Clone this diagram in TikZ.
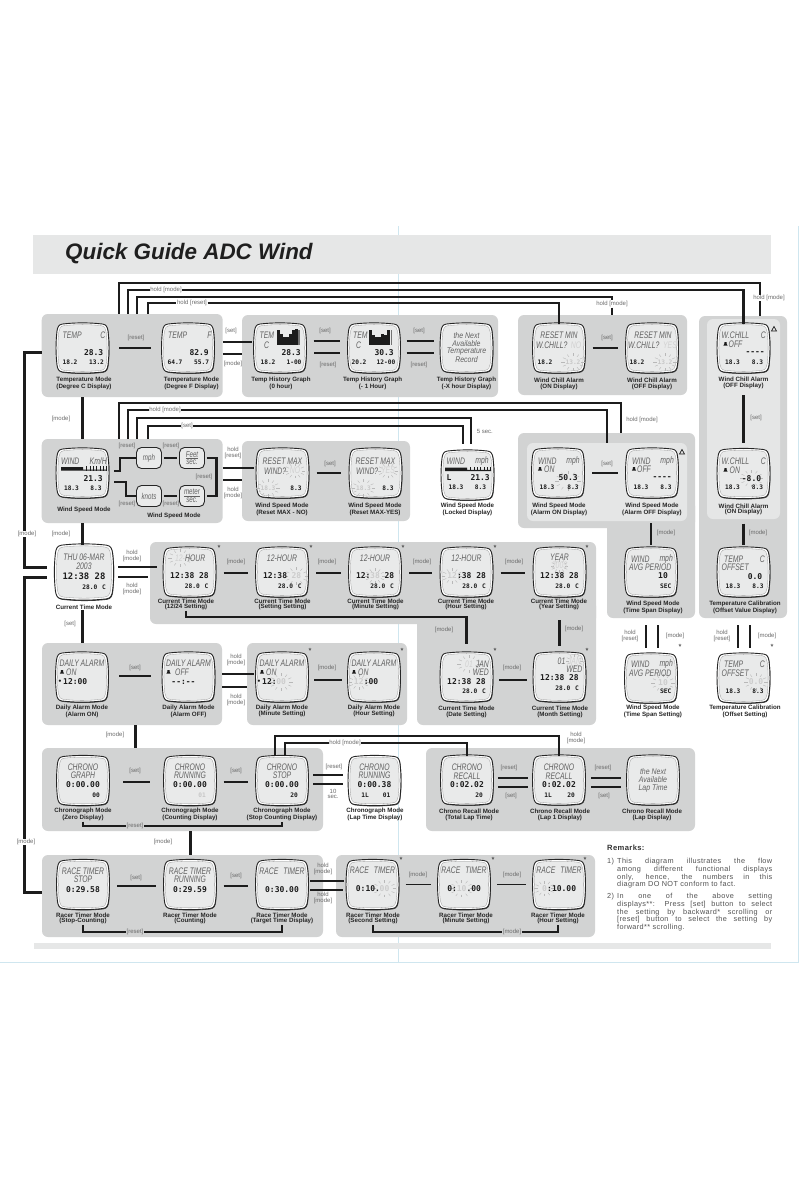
\documentclass[tikz,border=0pt]{standalone}
\usepackage{fontspec}
\setmainfont{Liberation Sans}
\newfontfamily\lcdfont[FakeStretch=.72]{Liberation Sans}
\newfontfamily\nextfont[FakeStretch=.85]{Liberation Sans}
\newfontfamily\digfont{DejaVu Sans Mono}
\newfontfamily\remfont[LetterSpace=5]{Liberation Sans}
\definecolor{grpgray}{HTML}{D2D3D3}
\definecolor{inngray}{HTML}{E5E6E6}
\definecolor{bandgray}{HTML}{E6E7E7}
\definecolor{facegray}{HTML}{E9EAEA}
\definecolor{rulecol}{HTML}{CFE6EF}
\definecolor{inkdark}{HTML}{1C1C1C}
\tikzset{
  grp/.style={fill=grpgray,rounded corners=6pt,inner sep=0pt},
  inn/.style={fill=inngray,rounded corners=6pt,inner sep=0pt},
  link/.style={draw=inkdark,line width=2.3pt},
  heavy/.style={draw=inkdark,line width=3pt},
  thinlink/.style={draw=inkdark,line width=1.8pt},
  gapline/.style={shorten <=#1,shorten >=#1},
  lbl/.style={font=\fontsize{6}{5.6}\selectfont,text=black!58,align=center,inner sep=.6pt},
  capt/.style={font=\bfseries\fontsize{6.2}{5.5}\selectfont,text=black!85,align=center,inner sep=.5pt},
  tl/.style={font=\lcdfont\itshape\fontsize{9.5}{9.5}\selectfont,text=black!62,anchor=west,inner sep=0pt},
  tr/.style={tl,anchor=east},
  tc/.style={tl,anchor=center},
  tn/.style={tc,font=\nextfont\itshape\fontsize{8.2}{8.2}\selectfont},
  fi/.style={tl,anchor=center,text=black!18},
  bg/.style={font=\digfont\bfseries\fontsize{8}{8}\selectfont,text=inkdark,anchor=east,inner sep=0pt},
  bc/.style={bg,anchor=center},
  bl/.style={bg,anchor=west},
  bk/.style={bc,font=\digfont\bfseries\fontsize{8.9}{9}\selectfont},
  fb/.style={bc,text=black!20},
  sm/.style={font=\digfont\bfseries\fontsize{6.2}{6}\selectfont,text=inkdark,anchor=center,inner sep=0pt},
  sr/.style={sm,anchor=east},
  fd/.style={sm,text=black!22},
  btn/.style={draw=black!85,line width=.9pt,fill=facegray,rounded corners=5pt,minimum width=25pt,minimum height=21pt,
    inner sep=0pt,align=center,font=\lcdfont\itshape\fontsize{8.6}{7.6}\selectfont,text=black!62},
  star/.style={font=\fontsize{7.5}{7.5}\selectfont,text=inkdark,inner sep=0pt},
  tri/.style={draw=inkdark,line width=.7pt},
  raysty/.style={draw=black!28,line width=.4pt},
  rem/.style={font=\remfont\fontsize{7.3}{7.75}\selectfont,text=black!68,align=left,anchor=north west,inner sep=0pt},
}
\newcounter{dtcnt}
\newcommand\dt[3][tl]{\stepcounter{dtcnt}\node[#1] (dtxt\arabic{dtcnt}) at (#2) {#3};}
\newcommand\rays[2]{\foreach \a in {0,30,...,330}
  \draw[raysty,shift={(#1)},xscale=1.35] (\a:#2) -- (\a:#2+2.6);}
\newcommand\bellm[1]{\fill[inkdark,shift={(#1)}] (-2.2,1.7) -- (2.2,1.7) -- (1.3,.2) -- (1,-1.8) -- (-1,-1.8) -- (-1.3,.2) -- cycle;}
\newcommand\windbar[3]{\fill[inkdark,shift={(#1)}] (0,0) rectangle (#2,-1.2) (0,0) rectangle (.48*#2,-3.5);
  \foreach \i in {1,...,7} \fill[inkdark,shift={(#1)}] (.48*#2+\i*.072*#2,0) rectangle ++(.8,-#3);}
\def\lcdshape{(-20,-24) .. controls (-7,-25.5) and (7,-25.5) .. (20,-24) .. controls (24,-23.5) and (25,-20.5) .. (25.5,-17)
  .. controls (26.8,-6) and (26.8,6) .. (25.5,17) .. controls (25,20.5) and (24,23.5) .. (20,24)
  .. controls (7,25.5) and (-7,25.5) .. (-20,24) .. controls (-24,23.5) and (-25,20.5) .. (-25.5,17)
  .. controls (-26.8,6) and (-26.8,-6) .. (-25.5,-17) .. controls (-25,-20.5) and (-24,-23.5) .. (-20,-24) -- cycle}
\newcommand\lcd[6][1]{
  \begin{scope}[shift={(#3)},scale=#1]
    \node[minimum width=#1*52pt,minimum height=#1*48pt,inner sep=0pt] (#2) at (0,0) {};
    \fill[black!75,shift={(.5,.8)}] \lcdshape;
    \draw[black!85,fill=white,line width=.9pt] \lcdshape;
    \draw[black!40,fill=facegray,line width=.3pt,scale=.93] \lcdshape;
    #6
  \end{scope}
  \node[capt] (#2cap) at (#4) {#5};}
\newcommand\rline[1]{\makebox[155pt][s]{#1}\\}
\begin{document}
\begin{tikzpicture}[x=1pt,y=-1pt]
  \useasboundingbox (0,0) rectangle (808,1179);
  \fill[white] (0,0) rectangle (808,1179);
  \draw[rulecol,line width=.7pt] (398,226) -- (398,962);
  \draw[rulecol,line width=.9pt] (798,226) -- (798,962) -- (0,962);
  \node[fill=bandgray,minimum width=738pt,minimum height=39pt,inner sep=0pt] (topband) at (402,254.5) {};
  \node[fill=bandgray,minimum width=737pt,minimum height=6pt,inner sep=0pt] (lowband) at (402.5,946) {};
  \node[font=\bfseries\itshape\fontsize{22.4}{22}\selectfont,text=black!88,anchor=west,inner sep=0pt] (title) at (65,254) {Quick Guide ADC Wind};

  \node[grp,minimum width=181pt,minimum height=83pt] (gTemp) at (132.2,355.5) {};
  \node[grp,minimum width=256pt,minimum height=82pt] (gHist) at (370,356) {};
  \node[grp,minimum width=169pt,minimum height=80pt] (gChill) at (602.5,355) {};
  \node[grp,minimum width=88pt,minimum height=302pt] (gRight) at (743,467) {};
  \node[inn,minimum width=73pt,minimum height=200pt] (gRightin) at (743.5,419) {};
  \node[grp,minimum width=181pt,minimum height=84pt] (gWind) at (132.2,481) {};
  \node[grp,minimum width=168pt,minimum height=80pt] (gReset) at (326,481) {};
  \node[grp,minimum width=177pt,minimum height=95pt] (gAlarm) at (606.5,480.5) {};
  \node[grp,minimum width=88pt,minimum height=118pt] (gAvg) at (651,559) {};
  \node[inn,minimum width=160pt,minimum height=78pt] (gAlarmin) at (607,482) {};
  \node[grp,minimum width=446pt,minimum height=82pt] (gSet) at (373,583) {};
  \node[grp,minimum width=179pt,minimum height=125pt] (gSetb) at (506.5,662.5) {};
  \node[grp,minimum width=180pt,minimum height=82pt] (gDaily) at (132,684) {};
  \node[grp,minimum width=160pt,minimum height=82pt] (gDset) at (327,684) {};
  \node[grp,minimum width=281pt,minimum height=83pt] (gChrono) at (182.5,789.5) {};
  \node[grp,minimum width=269pt,minimum height=83pt] (gRecall) at (560.5,789.5) {};
  \node[grp,minimum width=281pt,minimum height=82pt] (gRace) at (182.5,896) {};
  \node[grp,minimum width=259pt,minimum height=82pt] (gRset) at (465.5,896) {};

  \lcd{tempc}{82.5,348}{84,383.7}{Temperature Mode\\(Degree C Display)}{
    \dt{-20,-13}{TEMP} \dt[tr]{23,-13}{C} \dt[bg]{21,5}{28.3} \dt[sm]{-12.5,14}{18.2} \dt[sm]{14,14}{13.2}}
  \lcd{tempf}{188,348}{191.5,383.7}{Temperature Mode\\(Degree F Display)}{
    \dt{-20,-13}{TEMP} \dt[tr]{23.7,-13}{F} \dt[bg]{21,5}{82.9} \dt[sm]{-13,14}{64.7} \dt[sm]{13.7,14}{55.7}}
  \lcd{tem0}{280,348}{281,383.7}{Temp History Graph\\(0 hour)}{
    \foreach \bx/\bh in {-3.3/15,-.3/11,2.7/8,5.7/8,8.7/11,11.7/15,14.7/15.5} \fill[inkdark] (\bx,-3.3) rectangle ++(3,-\bh);
    \fill[black!55] (17.7,-3.3) rectangle ++(2,-15);
    \dt{-20.5,-13}{TEM} \dt{-16,-3}{C} \dt[bg]{21,5}{28.3} \dt[sm]{-12,14}{18.2} \dt[sm]{14,14}{1-00}}
  \lcd{tem1}{374,348}{372.7,383.7}{Temp History Graph\\(- 1 Hour)}{
    \foreach \bx/\bh in {-4.7/15,-1.7/9.5,1.3/7.5,4.3/7.5,7.3/10.5,10.3/10,13.3/15} \fill[inkdark] (\bx,-3.3) rectangle ++(3,-\bh);
    \fill[black!55] (17,-3.3) rectangle ++(1,-15);
    \dt{-21,-13}{TEM} \dt{-18,-3}{C} \dt[bg]{20,5}{30.3} \dt[sm]{-15,14}{20.2} \dt[sm]{12,14}{12-00}}
  \lcd{nexth}{466.5,348}{466.5,383.7}{Temp History Graph\\(-X hour Display)}{
    \dt[tn]{0,-12}{the Next} \dt[tn]{0,-4}{Available} \dt[tn]{0,4}{Temperature} \dt[tn]{0,12}{Record}}
  \lcd{rmin1}{559,348}{559,383.7}{Wind Chill Alarm\\(ON Display)}{
    \rays{14,14}{6}
    \dt[tc]{0,-13}{RESET MIN} \dt{-23,-3}{W.CHILL?} \dt[fi]{17,-3}{NO} \dt[sm]{-14,14}{18.2} \dt[fd]{14,14}{13.2}}
  \lcd{rmin2}{652,348}{652,383.7}{Wind Chill Alarm\\(OFF Display)}{
    \rays{13,14}{6}
    \dt[tc]{1,-13}{RESET MIN} \dt{-24,-3}{W.CHILL?} \dt[fi]{18,-3}{YES} \dt[sm]{-15,14}{18.2} \dt[fd]{13,14}{13.2}}
  \lcd{wcoff}{743.5,348}{743.5,383}{Wind Chill Alarm\\(OFF Display)}{
    \bellm{-18,-4} \dt{-22,-13}{W.CHILL} \dt[tr]{22.5,-13}{C} \dt{-15,-4}{OFF} \dt[bg]{21.5,5}{-{}-{}-{}-} \dt[sm]{-11,14}{18.3} \dt[sm]{14,14}{8.3}}
  \lcd{wcon}{743.5,473.5}{743.5,509.5}{Wind Chill Alarm\\(ON Display)}{
    \rays{8,5}{6}
    \bellm{-18,-3.5} \dt{-22,-12}{W.CHILL} \dt[tr]{22.5,-12}{C} \dt{-14,-3.5}{ON} \dt[bc]{8,5}{-8.0} \dt[sm]{-11,14}{18.3} \dt[sm]{14,14}{8.3}}

  \lcd{wspd}{82.5,473}{84,509.5}{Wind Speed Mode}{
    \windbar{-21.5,-2.3}{46}{4.5}
    \dt{-21.5,-12}{WIND} \dt[tr]{24.5,-12}{Km/H} \dt[bg]{20.5,5.7}{21.3} \dt[sm]{-11,15.7}{18.3} \dt[sm]{13.5,15.7}{8.3}}
  \node[btn] (mph) at (149,458) {mph};
  \node[btn] (feet) at (192,458) {\underline{Feet}\\sec.};
  \node[btn] (knots) at (149,496) {knots};
  \node[btn] (meter) at (192,496) {\underline{meter}\\sec.};
  \node[capt] (wmodecap) at (174,516) {Wind Speed Mode};
  \lcd{rno}{282.5,473}{282,509.5}{Wind Speed Mode\\(Reset MAX - NO)}{
    \rays{-14.5,15}{6} \rays{12.5,-2.3}{5}
    \dt[tc]{0,-12}{RESET MAX} \dt{-18.5,-2.3}{WIND?} \dt[fi]{12.5,-2.3}{NO} \dt[fd]{-14.5,15}{18.3} \dt[sm]{13.5,15}{8.3}}
  \lcd{ryes}{375.5,473}{375,509.5}{Wind Speed Mode\\(Reset MAX-YES)}{
    \rays{-12,15}{6} \rays{12.5,-2.3}{5}
    \dt[tc]{0,-12}{RESET MAX} \dt{-19.5,-2.3}{WIND?} \dt[fi]{12.5,-2.3}{YES} \dt[fd]{-12,15}{18.3} \dt[sm]{12.5,15}{8.3}}
  \lcd{wlock}{467.5,475}{467.5,509.5}{Wind Speed Mode\\(Locked Display)}{
    \windbar{-22.5,-4}{46}{4.5}
    \dt{-21,-14}{WIND} \dt[tr]{21.5,-14}{mph} \dt[bl]{-21,3}{L} \dt[bg]{22.5,3}{21.3} \dt[sm]{-11.5,12}{18.3} \dt[sm]{13,12}{8.3}}
  \lcd{won}{558,473}{559,509.5}{Wind Speed Mode\\(Alarm ON Display)}{
    \rays{10,8}{7}
    \bellm{-18,-4} \dt{-20,-12}{WIND} \dt[tr]{22,-12}{mph} \dt{-14,-4}{ON} \dt[bg]{20,5}{50.3} \dt[sm]{-11,14}{18.3} \dt[sm]{15,14}{8.3}}
  \lcd{woff}{652,473}{652,509.5}{Wind Speed Mode\\(Alarm OFF Display)}{
    \bellm{-18,-4} \dt{-20,-12}{WIND} \dt[tr]{22,-12}{mph} \dt{-15,-4}{OFF} \dt[bg]{20,5}{-{}-{}-{}-} \dt[sm]{-11,14}{18.3} \dt[sm]{14,14}{8.3}}
  \lcd{wavg}{651,572}{653,607}{Wind Speed Mode\\(Time Span Display)}{
    \dt{-20,-13}{WIND} \dt[tr]{22,-13}{mph} \dt{-22,-5}{AVG PERIOD} \dt[bc]{12,4}{10} \dt[sr]{20.5,14}{SEC}}
  \lcd{toff}{743.5,572}{745,607}{Temperature Calibration\\(Offset Value Display)}{
    \dt{-19.5,-13}{TEMP} \dt[tr]{21.5,-13}{C} \dt{-22,-5}{OFFSET} \dt[bg]{19,5}{0.0} \dt[sm]{-10.5,14.7}{18.3} \dt[sm]{14.5,14.7}{8.3}}
  \lcd{wavgb}{651,678}{653,711.5}{Wind Speed Mode\\(Time Span Setting)}{
    \rays{12,5}{6}
    \dt{-20,-14}{WIND} \dt[tr]{22,-14}{mph} \dt{-22,-5}{AVG PERIOD} \dt[fb]{12,5}{10} \dt[sr]{20.5,13}{SEC}}
  \lcd{toffb}{743.5,678}{745,711.5}{Temperature Calibration\\(Offset Setting)}{
    \rays{12.5,4}{6}
    \dt{-19.5,-14}{TEMP} \dt[tr]{21.5,-14}{C} \dt{-22,-5}{OFFSET} \dt[fb]{12.5,4}{0.0} \dt[sm]{-10.5,13}{18.3} \dt[sm]{14.5,13}{8.3}}

  \lcd[1.12]{clock}{84,572}{84,607}{Current Time Mode}{
    \dt[tc]{0,-13.4}{THU 06-MAR} \dt[tc]{0,-5.4}{2003} \dt[bk]{0,3.6}{12:38 28} \dt[sr]{19.6,13.4}{28.0\, C}}
  \lcd{set12}{189.5,572}{186,604.5}{Current Time Mode\\(12/24 Setting)}{
    \rays{-9.5,-14}{6}
    \dt[fi]{-9.5,-14}{12-} \dt{-4.5,-14}{HOUR} \dt[bc]{0,4}{12:38 28} \dt[sr]{19,14}{28.0\, C}}
  \lcd{setsec}{282,572}{282.5,604.5}{Current Time Mode\\(Setting Setting)}{
    \rays{14.4,4}{6}
    \dt[tc]{0,-14}{12-HOUR} \dt[bl]{-19.2,4}{12:38} \dt[fb]{14.4,4}{28} \dt[sr]{19.7,14}{28.0\, C}}
  \lcd{setmin}{375,572}{375.5,604.5}{Current Time Mode\\(Minute Setting)}{
    \rays{0,4}{5}
    \dt[tc]{0,-14}{12-HOUR} \dt[bl]{-19.2,4}{12:} \dt[fb]{0,4}{38} \dt[bc]{14.4,4}{28} \dt[sr]{19,14}{28.0\, C}}
  \lcd{sethr}{466.5,572}{466,604.5}{Current Time Mode\\(Hour Setting)}{
    \rays{-14.4,4}{5}
    \dt[tc]{0,-14}{12-HOUR} \dt[fb]{-14.4,4}{12} \dt[bl]{-9.6,4}{:38 28} \dt[sr]{19.5,14}{28.0\, C}}
  \lcd{setyr}{559.5,572}{559,604.5}{Current Time Mode\\(Year Setting)}{
    \rays{0,-6}{4}
    \dt[tc]{0,-14.5}{YEAR} \dt[fi]{0,-6.5}{2003} \dt[bc]{0,4}{12:38 28} \dt[sr]{19.5,14}{28.0\, C}}
  \lcd{date}{466.5,677}{466.5,712}{Current Time Mode\\(Date Setting)}{
    \rays{2.5,-13}{6}
    \dt[fi]{2.5,-13}{01} \dt[tr]{22.5,-13}{JAN} \dt[tr]{22.5,-4.3}{WED} \dt[bc]{0,4.7}{12:38 28} \dt[sr]{19.5,14}{28.0\, C}}
  \lcd{month}{559.5,677}{560,712}{Current Time Mode\\(Month Setting)}{
    \rays{15,-16}{4}
    \dt[tc]{2,-16}{01} \dt[fi]{15,-16}{JAN} \dt[tr]{23,-8}{WED} \dt[bc]{0,1}{12:38 28} \dt[sr]{19.5,11}{28.0\, C}}

  \lcd{alon}{82,677}{82,711}{Daily Alarm Mode\\(Alarm ON)}{
    \bellm{-20,-5} \dt[tc]{0,-14}{DAILY ALARM} \dt{-16,-5}{ON} \dt[sm]{-22,5}{\textbullet} \dt[bl]{-19,5}{12:00}}
  \lcd{aloff}{188.5,677}{188.5,711}{Daily Alarm Mode\\(Alarm OFF)}{
    \bellm{-20,-5} \dt[tc]{0,-14}{DAILY ALARM} \dt{-13.5,-5}{OFF} \dt[bc]{-5,5}{-{}-:-{}-}}
  \lcd{almin}{282,677}{282,711}{Daily Alarm Mode\\(Minute Setting)}{
    \rays{-.8,5}{6}
    \bellm{-20,-5} \dt[tc]{0,-14}{DAILY ALARM} \dt{-16,-5}{ON} \dt[sm]{-23,5}{\textbullet} \dt[bl]{-20,5}{12:} \dt[fb]{-.8,5}{00}}
  \lcd{alhr}{374,677}{374,711}{Daily Alarm Mode\\(Hour Setting)}{
    \rays{-15.2,5}{5}
    \bellm{-20,-5} \dt[tc]{0,-14}{DAILY ALARM} \dt{-16,-5}{ON} \dt[fb]{-15.2,5}{12} \dt[bl]{-10.4,5}{:00}}

  \lcd{cgraph}{83,780.5}{83,814.5}{Chronograph Mode\\(Zero Display)}{
    \dt[tc]{0,-13}{CHRONO} \dt[tc]{0,-5}{GRAPH} \dt[bc]{0,4.5}{0:00.00} \dt[sm]{13,15}{00}}
  \lcd{crun}{190,780.5}{190,814.5}{Chronograph Mode\\(Counting Display)}{
    \dt[tc]{0,-13}{CHRONO} \dt[tc]{0,-5}{RUNNING} \dt[bc]{0,4.5}{0:00.00} \dt[fd]{12,15}{01}}
  \lcd{cstop}{282,780.5}{282,814.5}{Chronograph Mode\\(Stop Counting Display)}{
    \dt[tc]{0,-13}{CHRONO} \dt[tc]{0,-5}{STOP} \dt[bc]{0,4.5}{0:00.00} \dt[sm]{12,15}{20}}
  \lcd{clap}{374.5,780.5}{375,814.5}{Chronograph Mode\\(Lap Time Display)}{
    \dt[tc]{0,-13}{CHRONO} \dt[tc]{0,-5}{RUNNING} \dt[bc]{0,4.5}{0:00.38} \dt[sm]{-9.5,15}{1L} \dt[sm]{12,15}{01}}
  \lcd{crec0}{467,780}{469,815}{Chrono Recall Mode\\(Total Lap Time)}{
    \dt[tc]{0,-13}{CHRONO} \dt[tc]{0,-4}{RECALL} \dt[bc]{0,5}{0:02.02} \dt[sm]{12,15}{20}}
  \lcd{crec1}{559,780}{560,815}{Chrono Recall Mode\\(Lap 1 Display)}{
    \dt[tc]{0,-13}{CHRONO} \dt[tc]{0,-4}{RECALL} \dt[bc]{0,5}{0:02.02} \dt[sm]{-11,15}{1L} \dt[sm]{12,15}{20}}
  \lcd{crec2}{653,780}{652,815}{Chrono Recall Mode\\(Lap Display)}{
    \dt[tn]{0,-8}{the Next} \dt[tn]{0,0}{Available} \dt[tn]{0,8}{Lap Time}}

  \lcd{rstop}{83,884.5}{83,918.5}{Racer Timer Mode\\(Stop-Counting)}{
    \dt[tc]{0,-13}{RACE TIMER} \dt[tc]{0,-5.5}{STOP} \dt[bc]{0,5}{0:29.58}}
  \lcd{rrun}{190,884.5}{190,918.5}{Racer Timer Mode\\(Counting)}{
    \dt[tc]{0,-13}{RACE TIMER} \dt[tc]{0,-5.5}{RUNNING} \dt[bc]{0,5}{0:29.59}}
  \lcd{rtgt}{282,884.5}{282,918.5}{Race Timer Mode\\(Target Time Display)}{
    \dt[tc]{0,-13}{RACE\,\, TIMER} \dt[bc]{0,5}{0:30.00}}
  \lcd{rsec}{372.5,884.5}{373,918.5}{Racer Timer Mode\\(Second Setting)}{
    \rays{12,4}{6}
    \dt[tc]{0,-14}{RACE\,\, TIMER} \dt[bl]{-16.8,4}{0:10.} \dt[fb]{12,4}{00}}
  \lcd{rmin}{464,884.5}{466,918.5}{Racer Timer Mode\\(Minute Setting)}{
    \rays{-2.4,4}{6}
    \dt[tc]{0,-14}{RACE\,\, TIMER} \dt[bl]{-16.8,4}{0:} \dt[fb]{-2.4,4}{10} \dt[bl]{2.4,4}{.00}}
  \lcd{rhr}{559,884.5}{558,918.5}{Racer Timer Mode\\(Hour Setting)}{
    \rays{-14.4,4}{5}
    \dt[tc]{0,-14}{RACE\,\, TIMER} \dt[fb]{-14.4,4}{0} \dt[bl]{-12,4}{:10.00}}

  \foreach \sx/\sy [count=\sn] in {219/548,311/548,403/548,495/548,587/548,495/651,587/651,310/651,402/651,401/860,493/860,585/860,680/647,772/647}
    \node[star] (star\sn) at (\sx,\sy) {*};
  \draw[tri] (771.5,331) -- (776.5,331) -- (774,326.5) -- cycle;
  \draw[tri] (679.5,454) -- (684.5,454) -- (682,449.5) -- cycle;

  \node[lbl] (hm1) at (166,290) {hold [mode]};
  \node[lbl] (hr1) at (192,303) {hold [reset]};
  \node[lbl] (hm2) at (612,304) {hold [mode]};
  \node[lbl] (hm4) at (165,410) {hold [mode]};
  \node[lbl] (st1) at (187,426) {[set]};
  \node[lbl,anchor=west] (sec5) at (476,431) {5 sec.};
  \node[lbl] (hm5) at (642,420) {hold [mode]};
  \node[lbl] (hm6) at (345,743) {hold [mode]};
  \node[lbl] (rs1) at (135,826) {[reset]};
  \node[lbl] (rs2) at (135,932) {[reset]};
  \node[lbl] (md1) at (512,932) {[mode]};

  \draw[link] ([xshift=-13pt]gTemp.north) |- (760,283) -- ([xshift=17pt]gRight.north);
  \draw[link] ([xshift=-4pt]gTemp.north) |- (hm1.west);
  \draw[link] (hm1.east) -| (wcoff.north);
  \draw[link] ([xshift=5pt]gTemp.north) |- (612,297) -- (hm2.north);
  \draw[link] (hm2.south) -- (hm2.south |- gChill.north);
  \draw[link] ([xshift=16pt]gTemp.north) |- (hr1.west);
  \draw[link] (hr1.east) -| (rmin1.north);
  \draw[link] ([xshift=-13pt]gWind.north) |- (621,403) -- ([xshift=14.5pt]gAlarm.north);
  \draw[link] ([xshift=-4pt]gWind.north) |- (hm4.west);
  \draw[link] (hm4.east) -| (gAlarmin.north);
  \draw[link,shorten >=7pt] ([xshift=5pt]gWind.north) |- (471,418) -- ([xshift=3.5pt]wlock.north);
  \draw[link] ([xshift=16pt]gWind.north) |- (st1.west);
  \draw[link,shorten >=7pt] (st1.east) -| ([xshift=-4.5pt]wlock.north);

  \draw[heavy] ([yshift=3.5pt]gTemp.west) -| ([xshift=-30pt,yshift=5pt]clock.west) -- ([xshift=-8pt,yshift=5pt]clock.west);
  \draw[heavy] ([xshift=-8pt,yshift=-5pt]clock.west) -- ([xshift=-30pt,yshift=-5pt]clock.west) |- ([yshift=4pt]gRace.west);
  \draw[heavy] (tempc |- gTemp.south) -- (wspd |- gWind.north);
  \draw[heavy] (wspd |- gWind.south) -- (wspd |- clock.north);
  \draw[heavy] (wspd |- clockcap.south) -- (wspd |- gDaily.north);
  \coordinate (dailydrop) at ([xshift=3pt]gDaily.south);
  \draw[heavy] (dailydrop) -- (dailydrop |- gChrono.north);
  \draw[heavy] (crun |- gChrono.south) -- (crun |- gRace.north);

  \draw[link,gapline=10.5pt] (tempc.east) -- (tempf.west);
  \draw[link,shorten >=2pt] ([yshift=6pt]gTemp.east |- tem0.west) -- ([yshift=6pt]tem0.west);
  \draw[link] ([yshift=-6pt]gTemp.east |- tem0.west) -- ([yshift=-6pt]gHist.west |- tem0.west);
  \draw[link,gapline=7.5pt] ([yshift=7pt]tem0.east) -- ([yshift=7pt]tem1.west);
  \draw[link,gapline=8pt] ([yshift=-5pt]tem0.east) -- ([yshift=-5pt]tem1.west);
  \draw[link,gapline=6.5pt] ([yshift=7pt]tem1.east) -- ([yshift=7pt]nexth.west);
  \draw[link,gapline=6.5pt] ([yshift=-5pt]tem1.east) -- ([yshift=-5pt]nexth.west);
  \draw[link,gapline=7.5pt] (rmin1.east) -- (rmin2.west);
  \draw[link,shorten <=23pt,shorten >=6pt] (wcoff.south) -- (wcon.north);
  \draw[link,shorten <=26pt,shorten >=3pt] (wcon.south) -- (toff.north);
  \draw[link,gapline=8pt] (won.east) -- (woff.west);
  \draw[link,shorten <=26pt,shorten >=3pt] (wavg |- woff.south) -- (wavg.north);
  \draw[thinlink,shorten <=29pt,shorten >=6pt] ([xshift=-5pt]wavg.south) -- ([xshift=-5pt]wavgb.north);
  \draw[thinlink,shorten <=29pt,shorten >=6pt] ([xshift=7pt]wavg.south) -- ([xshift=7pt]wavgb.north);
  \draw[thinlink,shorten <=29pt,shorten >=6pt] ([xshift=-5.5pt]toff.south) -- ([xshift=-5.5pt]toffb.north);
  \draw[thinlink,shorten <=29pt,shorten >=6pt] ([xshift=6.5pt]toff.south) -- ([xshift=6.5pt]toffb.north);

  \draw[link,shorten <=5.5pt] ([yshift=2pt]wspd.east) -- (120,471) |- (mph.west);
  \draw[link,shorten <=5.5pt] ([yshift=-9pt]wspd.east) -- (126,482) |- (knots.west);
  \draw[link,gapline=2pt] (mph.east) -- (feet.west);
  \draw[link,gapline=2pt] (knots.east) -- (meter.west);
  \draw[link,gapline=2pt] (feet.east) -- (216.5,458) |- (meter.east);
  \draw[link,shorten >=2.5pt] ([yshift=5pt]gWind.east |- rno.west) -- ([yshift=5pt]rno.west);
  \draw[link] ([yshift=-7pt]gWind.east |- rno.west) -- ([yshift=-7pt]gReset.west |- rno.west);
  \draw[link,gapline=8pt] (rno.east) -- (ryes.west);

  \draw[link,shorten <=5pt,shorten >=6pt] ([yshift=5pt]clock.east) -- ([yshift=5pt]set12.west);
  \draw[link,shorten <=5pt,shorten >=2pt] ([yshift=-5pt]clock.east) -- ([yshift=-5pt]gSet.west |- clock.east);
  \draw[link,gapline=8pt] ([yshift=-1pt]set12.east) -- ([yshift=-1pt]setsec.west);
  \draw[link,gapline=8pt] ([yshift=-1pt]setsec.east) -- ([yshift=-1pt]setmin.west);
  \draw[link,gapline=8pt] ([yshift=-1pt]setmin.east) -- ([yshift=-1pt]sethr.west);
  \draw[link,gapline=8pt] ([yshift=-1pt]sethr.east) -- ([yshift=-1pt]setyr.west);
  \draw[link,shorten >=9pt] (set12cap.south) -- ++(0,6) -| (date.north);
  \draw[link,shorten <=24pt,shorten >=7pt] (month |- setyr.south) -- (month.north);
  \draw[link,gapline=6.5pt] ([yshift=-3pt]date.east) -- ([yshift=-3pt]month.west);

  \draw[link,gapline=11pt] ([yshift=1pt]alon.east) -- ([yshift=1pt]aloff.west);
  \draw[link,shorten >=2pt] ([yshift=3pt]gDaily.east |- almin.west) -- ([yshift=3pt]almin.west);
  \draw[link] ([yshift=-10pt]gDaily.east |- almin.west) -- ([yshift=-10pt]gDset.west |- almin.west);
  \draw[thinlink,gapline=6pt] ([yshift=-3pt]almin.east) -- ([yshift=-3pt]alhr.west);

  \draw[link,gapline=14pt] ([yshift=-1.5pt]cgraph.east) -- ([yshift=-1.5pt]crun.west);
  \draw[link,gapline=7.5pt] ([yshift=-1.5pt]crun.east) -- ([yshift=-1.5pt]cstop.west);
  \draw[thinlink,gapline=5pt] ([yshift=5.5pt]cstop.east) -- ([yshift=5.5pt]clap.west);
  \draw[thinlink,gapline=5pt] ([yshift=-3.5pt]cstop.east) -- ([yshift=-3.5pt]clap.west);
  \draw[link] (cgraphcap.south) |- (rs1.west);
  \draw[link] (rs1.east) -| (cstopcap.south);
  \draw[thinlink] ([xshift=-7pt]cstop.north) |- (559,736) -- (crec1.north);
  \draw[thinlink] ([xshift=3pt]cstop.north) |- (hm6.west);
  \draw[thinlink] (hm6.east) -| (crec0.north);
  \draw[thinlink,gapline=5pt] ([yshift=2pt]crec0.east) -- ([yshift=2pt]crec1.west);
  \draw[thinlink,gapline=5pt] ([yshift=-7pt]crec0.east) -- ([yshift=-7pt]crec1.west);
  \draw[thinlink,gapline=6pt] ([yshift=2pt]crec1.east) -- ([yshift=2pt]crec2.west);
  \draw[thinlink,gapline=6pt] ([yshift=-7pt]crec1.east) -- ([yshift=-7pt]crec2.west);

  \draw[link,gapline=8pt] ([yshift=-1.5pt]rstop.east) -- ([yshift=-1.5pt]rrun.west);
  \draw[link,gapline=7.5pt] ([yshift=-1.5pt]rrun.east) -- ([yshift=-1.5pt]rtgt.west);
  \draw[thinlink,gapline=2pt] ([yshift=3.5pt]rtgt.east) -- ([yshift=3.5pt]rsec.west);
  \draw[link,shorten <=2pt,shorten >=3pt] ([yshift=-5.5pt]rtgt.east) -- ([yshift=-5.5pt]rsec.west);
  \draw[thinlink,gapline=7pt] (rsec.east) -- (rmin.west);
  \draw[thinlink,gapline=7pt] (rmin.east) -- (rhr.west);
  \draw[link] (rstopcap.south) |- (rs2.west);
  \draw[link] (rs2.east) -| (rtgtcap.south);
  \draw[thinlink] (rseccap.south) |- (md1.west);
  \draw[thinlink] (md1.east) -| (rhrcap.south);

  \node[lbl,fill=white] (hm3) at (769,298) {hold [mode]};
  \node[lbl] (lb1) at (136,338) {[reset]};
  \node[lbl] (lb2) at (231,331) {[set]};
  \node[lbl] (lb3) at (233,364) {[mode]};
  \node[lbl] (lb4) at (325,331) {[set]};
  \node[lbl] (lb5) at (328,365) {[reset]};
  \node[lbl] (lb6) at (419,331) {[set]};
  \node[lbl] (lb7) at (419,365) {[reset]};
  \node[lbl] (lb8) at (607,338) {[set]};
  \node[lbl] (lb9) at (756,418) {[set]};
  \node[lbl] (lb10) at (758,533) {[mode]};
  \node[lbl] (lb11) at (607,464) {[set]};
  \node[lbl] (lb12) at (666,533) {[mode]};
  \node[lbl] (lb13) at (630,636) {hold\\[0pt][reset]};
  \node[lbl] (lb14) at (675,636) {[mode]};
  \node[lbl] (lb15) at (722,636) {hold\\[0pt][reset]};
  \node[lbl] (lb16) at (767,636) {[mode]};
  \node[lbl] (lb17) at (61,419) {[mode]};
  \node[lbl] (lb18) at (61,534) {[mode]};
  \node[lbl,fill=white] (lb19) at (27,534) {[mode]};
  \node[lbl] (lb20) at (70,624) {[set]};
  \node[lbl] (lb21) at (115,735) {[mode]};
  \node[lbl] (lb22) at (163,842) {[mode]};
  \node[lbl,fill=white] (lb23) at (26,842) {[mode]};
  \node[lbl] (lb24) at (127,446) {[reset]};
  \node[lbl] (lb25) at (171,446) {[reset]};
  \node[lbl] (lb26) at (204,477) {[reset]};
  \node[lbl] (lb27) at (127,504) {[reset]};
  \node[lbl] (lb28) at (171,504) {[reset]};
  \node[lbl] (lb29) at (233,453) {hold\\[0pt][reset]};
  \node[lbl] (lb30) at (233,493) {hold\\[0pt][mode]};
  \node[lbl] (lb31) at (330,464) {[set]};
  \node[lbl] (lb32) at (132,556) {hold\\[0pt][mode]};
  \node[lbl] (lb33) at (132,589) {hold\\[0pt][mode]};
  \node[lbl] (lb34) at (236,562) {[mode]};
  \node[lbl] (lb35) at (327,562) {[mode]};
  \node[lbl] (lb36) at (422,562) {[mode]};
  \node[lbl] (lb37) at (514,562) {[mode]};
  \node[lbl] (lb38) at (444,630) {[mode]};
  \node[lbl] (lb39) at (574,629) {[mode]};
  \node[lbl] (lb40) at (512,668) {[mode]};
  \node[lbl] (lb41) at (135,668) {[set]};
  \node[lbl] (lb42) at (236,660) {hold\\[0pt][mode]};
  \node[lbl] (lb43) at (236,700) {hold\\[0pt][mode]};
  \node[lbl] (lb44) at (327,668) {[mode]};
  \node[lbl] (lb45) at (135,771) {[set]};
  \node[lbl] (lb46) at (236,771) {[set]};
  \node[lbl] (lb47) at (334,767) {[reset]};
  \node[lbl] (lb48) at (333,794) {10\\[0pt]sec.};
  \node[lbl] (lb49) at (576,738) {hold\\[0pt][mode]};
  \node[lbl] (lb50) at (509,768) {[reset]};
  \node[lbl] (lb51) at (511,796) {[set]};
  \node[lbl] (lb52) at (603,768) {[reset]};
  \node[lbl] (lb53) at (604,796) {[set]};
  \node[lbl] (lb54) at (136,878) {[set]};
  \node[lbl] (lb55) at (236,876) {[set]};
  \node[lbl] (lb56) at (323,869) {hold\\[0pt][mode]};
  \node[lbl] (lb57) at (323,898) {hold\\[0pt][mode]};
  \node[lbl] (lb58) at (418,875) {[mode]};
  \node[lbl] (lb59) at (512,875) {[mode]};

  \node[rem,font=\remfont\bfseries\fontsize{7.6}{8}\selectfont,text=black!80] (remhead) at (607,845) {Remarks:};
  \node[rem] (rem1n) at (607,858) {1)};
  \node[rem] (rem1) at (617,858) {\rline{This diagram illustrates the flow}\rline{among different functional displays}\rline{only, hence, the numbers in this}diagram DO NOT conform to fact.};
  \node[rem] (rem2n) at (607,893) {2)};
  \node[rem] (rem2) at (617,893) {\rline{In one of the above setting}\rline{displays**: Press [set] button to select}\rline{the setting by backward* scrolling or}\rline{[reset] button to select the setting by}forward** scrolling.};
\end{tikzpicture}
\end{document}
